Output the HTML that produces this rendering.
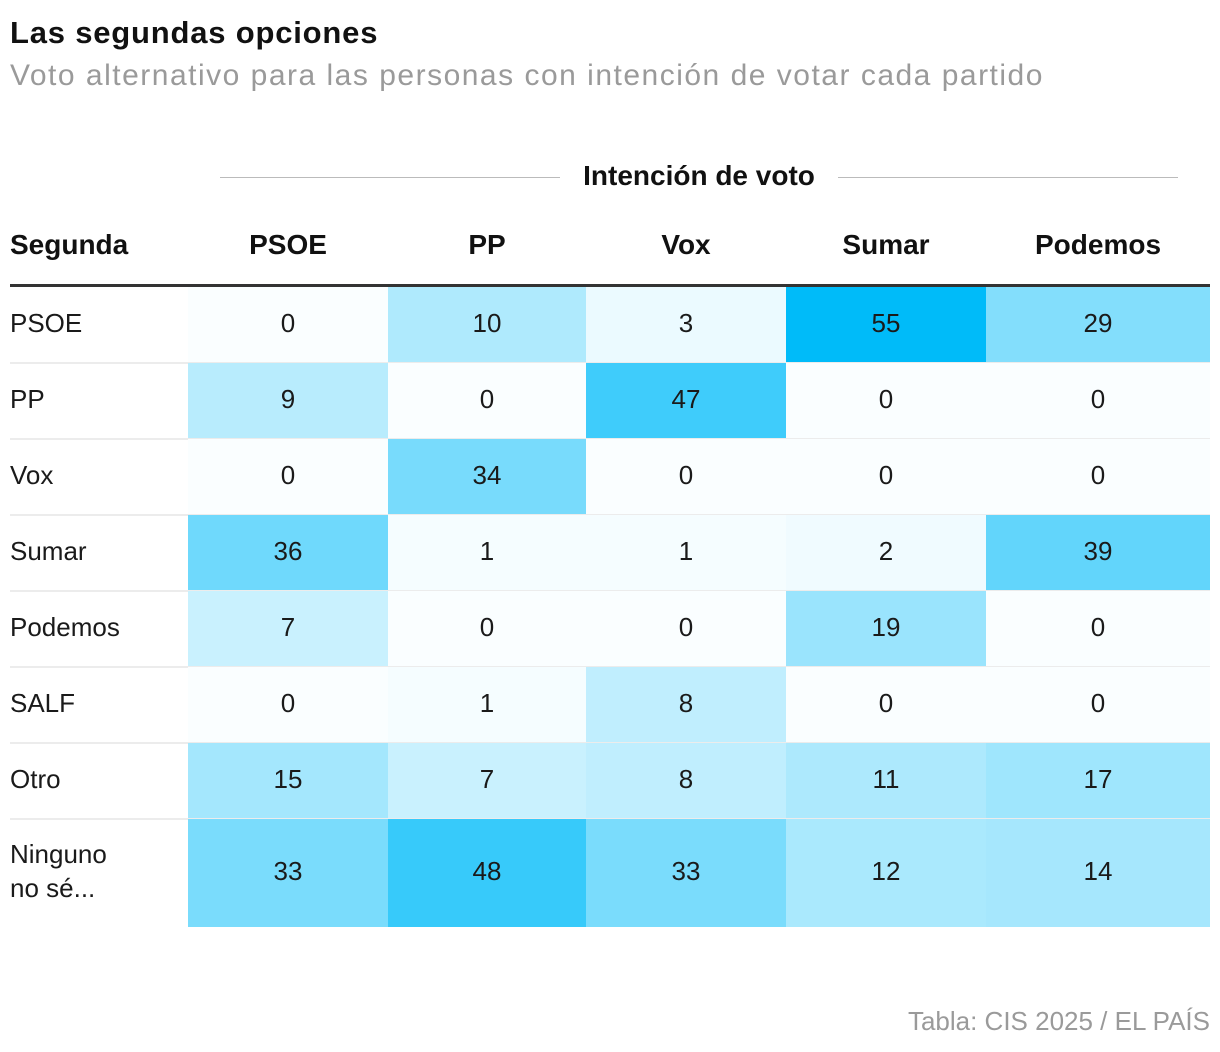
<!DOCTYPE html>
<html><head><meta charset="utf-8"><style>
body{margin:0;background:#fff;width:1220px;height:1052px;position:relative;overflow:hidden;font-family:"Liberation Sans",sans-serif;color:#111}
.a{position:absolute;white-space:nowrap}
.cell{position:absolute;display:flex;align-items:center;justify-content:center;font-size:26px;color:#1a1a1a;padding-bottom:4px;box-sizing:border-box}
.rl{position:absolute;font-size:26px;color:#1a1a1a;display:flex;align-items:center;line-height:34px;padding-bottom:4px;box-sizing:border-box}
.hd{position:absolute;font-size:28px;font-weight:bold;text-align:center}
</style></head><body>
<div class="a" style="left:10px;top:15px;font-size:31px;font-weight:bold;letter-spacing:0.8px">Las segundas opciones</div>
<div class="a" style="left:10px;top:59px;font-size:30px;color:#9a9a9a;letter-spacing:1.5px">Voto alternativo para las personas con intención de votar cada partido</div>
<div class="a" style="left:220px;top:177px;width:340px;height:1px;background:#bbb"></div>
<div class="a" style="left:838px;top:177px;width:340px;height:1px;background:#bbb"></div>
<div class="a" style="left:560px;width:278px;text-align:center;top:160px;font-size:28px;font-weight:bold">Intención de voto</div>
<div class="a" style="left:10px;top:284px;width:1200px;height:3px;background:#333"></div>
<div id="tbl"></div>
<div class="a" style="right:10px;top:1006px;font-size:26px;color:#9a9a9a">Tabla: CIS 2025 / EL PAÍS</div>
<script>
const columns=["PSOE","PP","Vox","Sumar","Podemos"];
const rows=["PSOE","PP","Vox","Sumar","Podemos","SALF","Otro","Ninguno<br>no sé..."];
const values=[
[0,10,3,55,29],
[9,0,47,0,0],
[0,34,0,0,0],
[36,1,1,2,39],
[7,0,0,19,0],
[0,1,8,0,0],
[15,7,8,11,17],
[33,48,33,12,14]];
const colX=[188,388,586,786,986,1210];
function rowY(i){return 287+i*76;}
function rowH(i){return i===7?108:76;}
const dom=[0,3,10,34,47,55],rng=[0,0.06,0.3,0.52,0.75,1];
function frac(v){for(let i=1;i<dom.length;i++){if(v<=dom[i]){return rng[i-1]+(v-dom[i-1])/(dom[i]-dom[i-1])*(rng[i]-rng[i-1]);}}return 1;}
function color(v){const f=frac(v);const a=[250,254,255],b=[0,187,249];return `rgb(${a.map((c,i)=>Math.round(c+(b[i]-c)*f)).join(',')})`;}
const t=document.getElementById('tbl');
const h0=document.createElement('div');h0.className='hd';h0.style.left='10px';h0.style.top='229px';h0.style.textAlign='left';h0.textContent='Segunda';


t.appendChild(h0);
columns.forEach((c,j)=>{const d=document.createElement('div');d.className='hd';d.style.left=colX[j]+'px';d.style.width=(colX[j+1]-colX[j])+'px';d.style.top='229px';d.textContent=c;


t.appendChild(d);});
rows.forEach((r,i)=>{
 if(i>0){const s=document.createElement('div');s.className='a';s.style.cssText=`left:10px;top:${rowY(i)-1}px;width:1200px;height:2px;background:#ececec`;
 
 
 t.appendChild(s);}
 const l=document.createElement('div');l.className='rl';l.style.left='10px';l.style.top=rowY(i)+'px';l.style.height=rowH(i)+'px';l.innerHTML=r;
 
 
 t.appendChild(l);
 values[i].forEach((v,j)=>{const c=document.createElement('div');c.className='cell';
  c.style.left=colX[j]+'px';c.style.width=(colX[j+1]-colX[j])+'px';c.style.top=rowY(i)+'px';c.style.height=rowH(i)+'px';c.style.background=color(v);c.textContent=v;
  
  
  t.appendChild(c);});
});
</script>
</body></html>
